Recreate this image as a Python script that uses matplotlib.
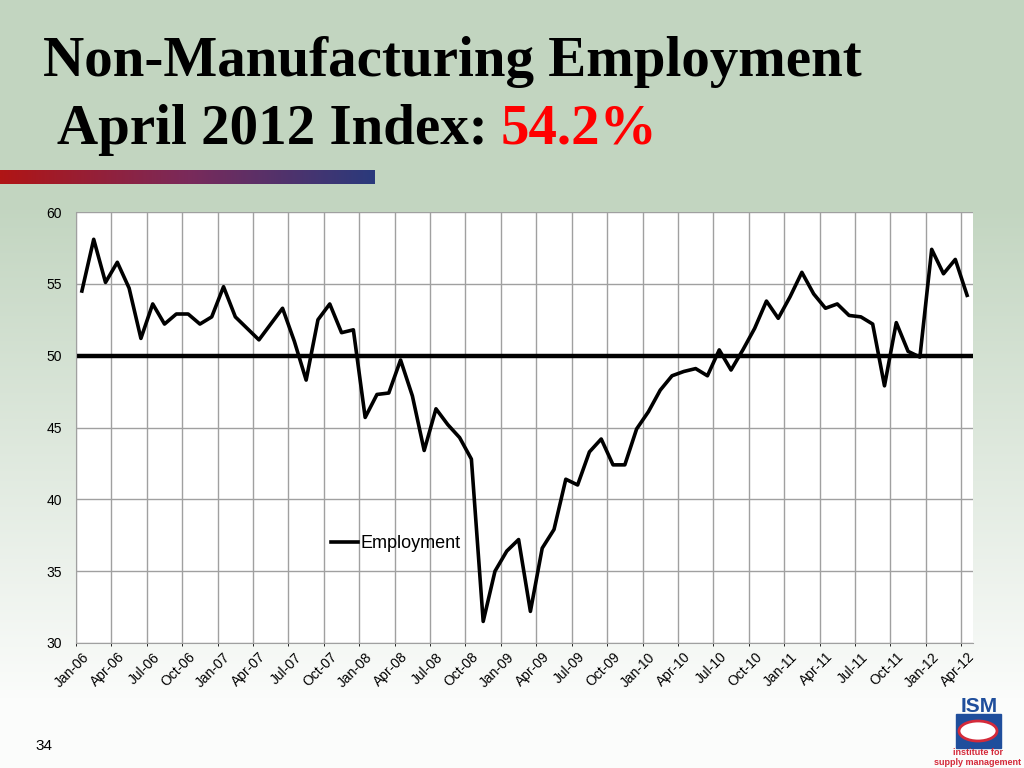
import numpy as np
import matplotlib.pyplot as plt
from matplotlib.colors import LinearSegmentedColormap
from matplotlib.patches import Rectangle, Ellipse

# ISM Non-Manufacturing Employment index, Jan-06 .. Apr-12
employment = [
    54.5, 58.1, 55.1, 56.5, 54.7, 51.2, 53.6, 52.2, 52.9, 52.9, 52.2, 52.7,  # 2006
    54.8, 52.7, 51.9, 51.1, 52.2, 53.3, 51.0, 48.3, 52.5, 53.6, 51.6, 51.8,  # 2007
    45.7, 47.3, 47.4, 49.7, 47.2, 43.4, 46.3, 45.2, 44.3, 42.8, 31.5, 35.0,  # 2008
    36.4, 37.2, 32.2, 36.6, 37.9, 41.4, 41.0, 43.3, 44.2, 42.4, 42.4, 44.9,  # 2009
    46.1, 47.6, 48.6, 48.9, 49.1, 48.6, 50.4, 49.0, 50.4, 51.9, 53.8, 52.6,  # 2010
    54.1, 55.8, 54.3, 53.3, 53.6, 52.8, 52.7, 52.2, 47.9, 52.3, 50.3, 49.9,  # 2011
    57.4, 55.7, 56.7, 54.2,                                                  # 2012
]
months = ['Jan', 'Feb', 'Mar', 'Apr', 'May', 'Jun',
          'Jul', 'Aug', 'Sep', 'Oct', 'Nov', 'Dec']
labels = [f'{months[i % 12]}-{6 + i // 12:02d}' for i in range(len(employment))]
breakeven = 50
title_line1 = 'Non-Manufacturing Employment'
title_line2 = 'April 2012 Index: '
title_value = '54.2%'

fig = plt.figure(figsize=(10.24, 7.68), dpi=100)

# slide background: sage green fading to white
bg = fig.add_axes([0, 0, 1, 1], zorder=-10)
grad = np.concatenate([np.zeros(200), np.linspace(0, 1, 500), np.ones(68)])[:, None]
cmap = LinearSegmentedColormap.from_list('slide', ['#c2d5c0', '#fbfcfb'])
bg.imshow(grad, aspect='auto', cmap=cmap, extent=[0, 1, 0, 1], origin='upper')
bg.set_axis_off()

# title
fig.text(43 / 1024, 1 - 76 / 768, title_line1, fontsize=41, fontweight='bold',
         family='Liberation Serif', va='baseline', ha='left')
fig.text(57 / 1024, 1 - 144 / 768, title_line2, fontsize=41, fontweight='bold',
         family='Liberation Serif', va='baseline', ha='left')
fig.text(501 / 1024, 1 - 144 / 768, title_value, fontsize=41, fontweight='bold',
         family='Liberation Serif', va='baseline', ha='left', color='#ff0000')

# red-to-blue bar under the title
bar = fig.add_axes([0, 1 - 184 / 768, 375 / 1024, 14 / 768])
barcmap = LinearSegmentedColormap.from_list('bar', ['#b01515', '#7a2a5a', '#2a3a7c'])
bar.imshow(np.linspace(0, 1, 256)[None, :], aspect='auto', cmap=barcmap)
bar.set_axis_off()

# chart
ax = fig.add_axes([76 / 1024, 1 - 643 / 768, 897 / 1024, 431 / 768])
ax.set_facecolor('white')
x = np.arange(len(employment))
ax.plot(x, employment, color='black', lw=2.6, label='Employment', zorder=3)
ax.axhline(breakeven, color='black', lw=3.2, zorder=2)

ax.set_xlim(-0.5, len(employment) - 0.5)
ax.set_ylim(30, 60)
ax.set_yticks(np.arange(30, 61, 5))
ax.set_xticks(x[::3])
ax.set_xticklabels(labels[::3], rotation=45, ha='right', rotation_mode='anchor',
                   family='Liberation Sans', fontsize=10)
ax.set_xticks(np.arange(-0.5, len(employment), 3), minor=True)
for lab in ax.get_yticklabels():
    lab.set_family('Liberation Sans')
    lab.set_fontsize(10)
ax.tick_params(axis='both', length=0)
ax.tick_params(axis='y', pad=10)
ax.tick_params(axis='x', which='major', pad=5)
ax.grid(True, axis='y', color='#a0a0a0', lw=1)
ax.grid(True, axis='x', which='minor', color='#a0a0a0', lw=1)
for side in ['top', 'right']:
    ax.spines[side].set_visible(False)
for side in ['left', 'bottom']:
    ax.spines[side].set_color('#a0a0a0')

leg = ax.legend(loc='center left', bbox_to_anchor=(0.266, 0.23), frameon=False,
                prop={'family': 'Liberation Sans', 'size': 13},
                handlelength=1.5, handletextpad=0.15)

# page number
fig.text(35 / 1024, 1 - 750 / 768, '34', fontsize=11, family='Liberation Sans')

# ISM logo (approximation)
fig.text(979 / 1024, 1 - 712 / 768, 'ISM', fontsize=15, fontweight='bold',
         family='Liberation Sans', color='#1f4e9c', ha='center', va='baseline')
fig.patches.append(Rectangle((956 / 1024, 1 - 748 / 768), 45 / 1024, 34 / 768,
                             transform=fig.transFigure, color='#1f4e9c'))
fig.patches.append(Ellipse((978 / 1024, 1 - 731 / 768), 38 / 1024, 20 / 768,
                           transform=fig.transFigure, facecolor='white',
                           edgecolor='#d42a3a', lw=2))
fig.text(978 / 1024, 1 - 755 / 768, 'institute for', fontsize=6.5, fontweight='bold',
         family='Liberation Sans', color='#d42a3a', ha='center', va='baseline')
fig.text(978 / 1024, 1 - 765 / 768, 'supply management', fontsize=6.5, fontweight='bold',
         family='Liberation Sans', color='#d42a3a', ha='center', va='baseline')

plt.savefig('out.png', dpi=100)
